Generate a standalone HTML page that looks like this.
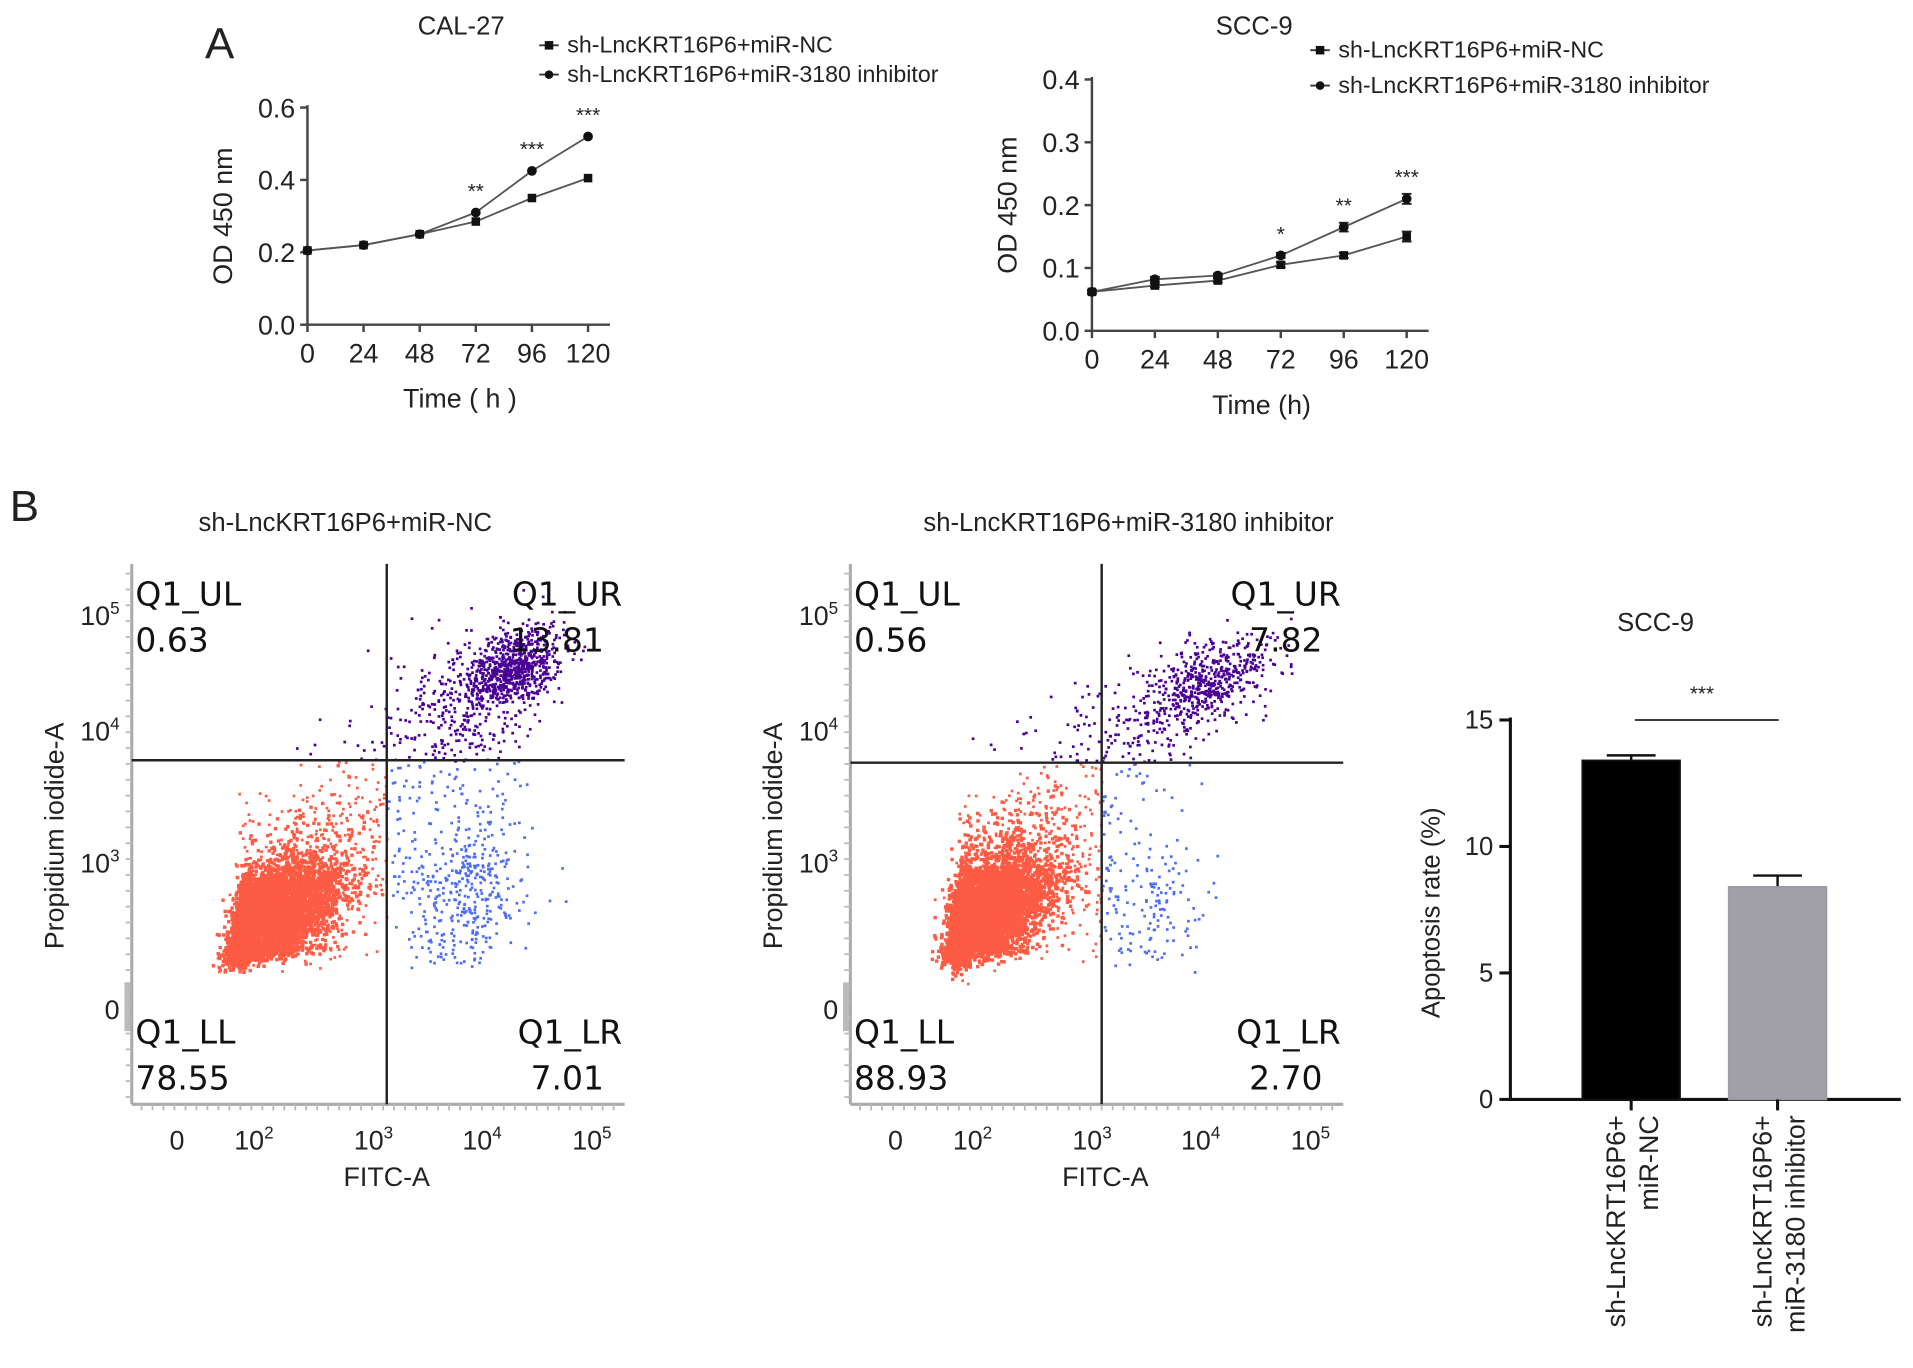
<!DOCTYPE html>
<html><head><meta charset="utf-8"><style>
html,body{margin:0;padding:0;background:#fff;}
svg{display:block;}
.t{font-family:"Liberation Sans",sans-serif;fill:#222;}
.q{font-family:"DejaVu Sans","Liberation Sans",sans-serif;fill:#111;font-size:27px;}
</style></head><body>
<svg id="fig" width="1913" height="1368" viewBox="0 0 1568 1121" xmlns="http://www.w3.org/2000/svg">
<text class="t" x="168" y="48" font-size="36">A</text>
<text class="t" x="8" y="427" font-size="36">B</text>
<g id="gA1"></g>
<g id="gA2"></g>
<g id="gF1"></g>
<g id="gF2"></g>
<g id="gBar"></g>
</svg>
<script>
// ---- Growth curve data ----
const timePoints = [0, 24, 48, 72, 96, 120];
const cal27NC = [0.205, 0.22, 0.25, 0.285, 0.35, 0.405];
const cal27Inh = [0.205, 0.22, 0.25, 0.31, 0.425, 0.52];
const cal27Stars = ["", "", "", "**", "***", "***"];
const cal27YTicks = [0.0, 0.2, 0.4, 0.6];
const scc9NC = [0.062, 0.072, 0.08, 0.105, 0.12, 0.15];
const scc9Inh = [0.062, 0.082, 0.088, 0.12, 0.165, 0.21];
const scc9NCErr = [0.003, 0.003, 0.003, 0.004, 0.004, 0.008];
const scc9InhErr = [0.003, 0.004, 0.003, 0.004, 0.007, 0.008];
const scc9Stars = ["", "", "", "*", "**", "***"];
const scc9YTicks = [0.0, 0.1, 0.2, 0.3, 0.4];
// ---- Flow cytometry data (log10 cluster centres/spreads, counts, x-y correlation) ----
const f1Quads = ["0.63", "13.81", "78.55", "7.01"];
const f2Quads = ["0.56", "7.82", "88.93", "2.70"];
const f1ClusterX = [2.1, 2.4, 4.3, 3.8, 3.85];
const f1ClusterY = [2.35, 2.7, 4.55, 4.25, 2.8];
const f1SpreadX = [0.3, 0.45, 0.22, 0.35, 0.28];
const f1SpreadY = [0.3, 0.45, 0.16, 0.3, 0.55];
const f1Corr = [0.6, 0.7, 0.3, 0.3, 0.2];
const f1Count = [5500, 900, 750, 300, 450];
const f2ClusterX = [2.05, 2.35, 4.1, 3.7, 3.5];
const f2ClusterY = [2.4, 2.8, 4.45, 4.15, 2.6];
const f2SpreadX = [0.3, 0.4, 0.3, 0.4, 0.3];
const f2SpreadY = [0.32, 0.45, 0.16, 0.25, 0.55];
const f2Corr = [0.6, 0.7, 0.35, 0.3, 0.2];
const f2Count = [6000, 700, 480, 180, 180];
const clusterColor = ["#fd5b44", "#fd6a50", "#4a0095", "#5a1a9e", "#4e6ef0"];
const flowXTickVals = [0, 2, 3, 4, 5];
const flowYTickVals = [0, 2, 3, 4, 5];
// ---- Bar data ----
const barCats = [["sh-LncKRT16P6+", "miR-NC"], ["sh-LncKRT16P6+", "miR-3180 inhibitor"]];
const barVals = [13.4, 8.4];
const barErr = [0.2, 0.45];
const barYTicks = [0, 5, 10, 15];

const NS = "http://www.w3.org/2000/svg";
function mk(parent, tag, attrs, text) {
  const e = document.createElementNS(NS, tag);
  for (const k in attrs) e.setAttribute(k, attrs[k]);
  if (text !== undefined) e.textContent = text;
  parent.appendChild(e);
  return e;
}
function lin(d0, d1, r0, r1) { return v => r0 + (v - d0) * (r1 - r0) / (d1 - d0); }

function growth(g, cfg) {
  const x = lin(0, 120, cfg.x0, cfg.x1), y = lin(0, cfg.ymax, cfg.y0, cfg.y1);
  const c = "#444";
  let e;
  e = mk(g, "line", {x1: cfg.x0, y1: cfg.y1 - 2, x2: cfg.x0, y2: cfg.y0, stroke: c, "stroke-width": 2});
   
  e = mk(g, "line", {x1: cfg.x0, y1: cfg.y0, x2: cfg.x1 + 18, y2: cfg.y0, stroke: c, "stroke-width": 2});
   
  cfg.yTicks.forEach(v => {
    mk(g, "line", {x1: cfg.x0 - 6, x2: cfg.x0, y1: y(v), y2: y(v), stroke: c, "stroke-width": 2});
    e = mk(g, "text", {class: "t", x: cfg.x0 - 10, y: y(v) + 8, "font-size": 22, "text-anchor": "end"}, v.toFixed(1));
     
  });
  timePoints.forEach(t => {
    mk(g, "line", {x1: x(t), x2: x(t), y1: cfg.y0, y2: cfg.y0 + 6, stroke: c, "stroke-width": 2});
    e = mk(g, "text", {class: "t", x: x(t), y: cfg.y0 + 31, "font-size": 22, "text-anchor": "middle"}, String(t));
     
  });
  [[cfg.nc, cfg.ncErr, "rect"], [cfg.inh, cfg.inhErr, "circle"]].forEach(([s, er, shp], si) => {
    const pts = s.map((v, i) => x(timePoints[i]) + "," + y(v)).join(" ");
    e = mk(g, "polyline", {points: pts, fill: "none", stroke: "#555", "stroke-width": 1.5});
     
    s.forEach((v, i) => {
      const px = x(timePoints[i]), py = y(v);
      if (er) {
        mk(g, "line", {x1: px, x2: px, y1: y(v + er[i]), y2: y(v - er[i]), stroke: "#222", "stroke-width": 1.5});
        mk(g, "line", {x1: px - 4, x2: px + 4, y1: y(v + er[i]), y2: y(v + er[i]), stroke: "#222", "stroke-width": 1.5});
        mk(g, "line", {x1: px - 4, x2: px + 4, y1: y(v - er[i]), y2: y(v - er[i]), stroke: "#222", "stroke-width": 1.5});
      }
      if (shp === "rect") e = mk(g, "rect", {x: px - 3.5, y: py - 3.5, width: 7, height: 7, fill: "#111"});
      else e = mk(g, "circle", {cx: px, cy: py, r: 4, fill: "#111"});
       
    });
  });
  cfg.stars.forEach((s, i) => {
    if (!s) return;
    e = mk(g, "text", {class: "t", x: x(timePoints[i]), y: y(Math.max(cfg.nc[i], cfg.inh[i])) - 12, "font-size": 17, "text-anchor": "middle"}, s);
     
  });
  e = mk(g, "text", {class: "t", x: cfg.titleX, y: 28, "font-size": 21, "text-anchor": "middle"}, cfg.title);
   
  e = mk(g, "text", {class: "t", x: cfg.x0 - 62, y: (cfg.y0 + cfg.y1) / 2, "font-size": 22, "text-anchor": "middle", transform: `rotate(-90 ${cfg.x0 - 62} ${(cfg.y0 + cfg.y1) / 2})`}, "OD 450 nm");
   
  e = mk(g, "text", {class: "t", x: (cfg.x0 + cfg.x1) / 2 + 10, y: cfg.y0 + 68, "font-size": 22, "text-anchor": "middle"}, cfg.xTitle);
   
  ["sh-LncKRT16P6+miR-NC", "sh-LncKRT16P6+miR-3180 inhibitor"].forEach((l, i) => {
    const ly = cfg.legY + i * cfg.legDy;
    mk(g, "line", {x1: cfg.legX - 8, x2: cfg.legX + 8, y1: ly, y2: ly, stroke: "#333", "stroke-width": 1.5});
    if (i === 0) mk(g, "rect", {x: cfg.legX - 3.5, y: ly - 3.5, width: 7, height: 7, fill: "#111"});
    else mk(g, "circle", {cx: cfg.legX, cy: ly, r: 3.5, fill: "#111"});
    e = mk(g, "text", {class: "t", x: cfg.legX + 15, y: ly + 6, "font-size": 19}, l);
     
  });
}
growth(document.getElementById("gA1"), {x0: 252, x1: 482, y0: 266, y1: 88, ymax: 0.6, nc: cal27NC, inh: cal27Inh, stars: cal27Stars, yTicks: cal27YTicks, title: "CAL-27", titleX: 378, xTitle: "Time ( h )", legX: 450, legY: 37, legDy: 24});
growth(document.getElementById("gA2"), {x0: 895, x1: 1153, y0: 271, y1: 65, ymax: 0.4, nc: scc9NC, inh: scc9Inh, ncErr: scc9NCErr, inhErr: scc9InhErr, stars: scc9Stars, yTicks: scc9YTicks, title: "SCC-9", titleX: 1028, xTitle: "Time (h)", legX: 1082, legY: 41, legDy: 29});

function rng(seed) { return function () { seed |= 0; seed = seed + 0x6D2B79F5 | 0; let t = Math.imul(seed ^ seed >>> 15, 1 | seed); t = t + Math.imul(t ^ t >>> 7, 61 | t) ^ t; return ((t ^ t >>> 14) >>> 0) / 4294967296; }; }
function piece(vals, px) { return v => { for (let i = 0; i < vals.length - 1; i++) { if (v <= vals[i + 1] || i === vals.length - 2) { return px[i] + (v - vals[i]) * (px[i + 1] - px[i]) / (vals[i + 1] - vals[i]); } } }; }

function flow(g, cfg) {
  const ox = cfg.ox;
  const xs = piece(flowXTickVals, [145 + ox, 205 + ox, 303 + ox, 392 + ox, 482 + ox]);
  const ys = piece(flowYTickVals, [828, 775, 708, 600, 505]);
  const L = 108 + ox, R = 512 + ox, T = 462, B = 905;
  let e;
  const r = rng(cfg.seed);
  const gauss = () => { let u = r() || 1e-9, v = r(); return Math.sqrt(-2 * Math.log(u)) * Math.cos(2 * Math.PI * v); };
  let html = "";
  cfg.cx.forEach((c, k) => {
    for (let n = 0; n < cfg.cnt[k]; n++) {
      const dx = gauss() * cfg.sx[k];
      const lx = c + dx, ly = cfg.cy[k] + gauss() * cfg.sy[k] + dx * cfg.corr[k];
      let px = xs(lx), py = ys(ly);
      if (px < L + 3 || px > R - 3 || py < T + 3 || py > B - 3) continue;
      if (k < 2 && py > 815) continue;
      let col;
      if (py < cfg.hy) col = "#4a0095"; else if (px > cfg.vx) col = "#4e6ef0"; else col = "#fd5b44";
      const sz = k === 0 ? 2.8 : 2.2;
      html += `<rect x="${px.toFixed(1)}" y="${py.toFixed(1)}" width="${sz}" height="${sz}" fill="${col}"/>`;
    }
  });
  const pts = mk(g, "g", {});
   
  pts.innerHTML = html;
  mk(g, "line", {x1: L, x2: L, y1: T, y2: B, stroke: "#aaa", "stroke-width": 2.5});
  mk(g, "line", {x1: L, x2: R, y1: B, y2: B, stroke: "#aaa", "stroke-width": 2.5});
  for (let yy = T + 8; yy < B; yy += 13) mk(g, "line", {x1: L - 5, x2: L, y1: yy, y2: yy, stroke: "#bbb", "stroke-width": 1.5});
  for (let xx = L + 8; xx < R; xx += 9) mk(g, "line", {x1: xx, x2: xx, y1: B, y2: B + 5, stroke: "#bbb", "stroke-width": 1.5});
  mk(g, "rect", {x: L - 6, y: 805, width: 5, height: 40, fill: "#bbb"});
  e = mk(g, "line", {x1: cfg.vx, x2: cfg.vx, y1: T, y2: B, stroke: "#222", "stroke-width": 2});
   
  e = mk(g, "line", {x1: L, x2: R, y1: cfg.hy, y2: cfg.hy, stroke: "#222", "stroke-width": 2});
   
  const xl = ["0", "10<tspan font-size='14' dy='-9'>2</tspan>", "10<tspan font-size='14' dy='-9'>3</tspan>", "10<tspan font-size='14' dy='-9'>4</tspan>", "10<tspan font-size='14' dy='-9'>5</tspan>"];
  flowXTickVals.forEach((v, i) => {
    e = mk(g, "text", {class: "t", x: xs(v) - (i ? 13 : 0), y: 942, "font-size": 22, "text-anchor": i ? "start" : "middle", fill: "#333"});
    e.innerHTML = xl[i];
     
  });
  flowYTickVals.forEach((v, i) => {
    if (v === 2) return;
    e = mk(g, "text", {class: "t", x: L - 10, y: ys(v) + 7, "font-size": 22, "text-anchor": "end", fill: "#333"});
    e.innerHTML = v === 0 ? "0" : `10<tspan font-size='14' dy='-9'>${v}</tspan>`;
     
  });
  e = mk(g, "text", {class: "t", x: 317 + ox, y: 972, "font-size": 22, "text-anchor": "middle"}, "FITC-A");
   
  e = mk(g, "text", {class: "t", x: 52 + ox, y: 685, "font-size": 22, "text-anchor": "middle", transform: `rotate(-90 ${52 + ox} 685)`}, "Propidium iodide-A");
   
  e = mk(g, "text", {class: "t", x: cfg.titleX, y: 435, "font-size": 21, "text-anchor": "middle"}, cfg.title);
   
  const names = ["Q1_UL", "Q1_UR", "Q1_LL", "Q1_LR"];
  const qx = [L + 3, R - 2, L + 3, R - 2], qy = [496, 496, 855, 855];
  names.forEach((n, i) => {
    const anc = i % 2 ? "end" : "start";
    e = mk(g, "text", {class: "q", x: qx[i], y: qy[i], "text-anchor": anc}, n);
     
    e = mk(g, "text", {class: "q", x: i % 2 ? qx[i] - 15 : qx[i], y: qy[i] + 38, "text-anchor": anc}, cfg.quads[i]);
     
  });
}
flow(document.getElementById("gF1"), {ox: 0, vx: 317, hy: 623, cx: f1ClusterX, cy: f1ClusterY, sx: f1SpreadX, sy: f1SpreadY, corr: f1Corr, cnt: f1Count, quads: f1Quads, seed: 11, title: "sh-LncKRT16P6+miR-NC", titleX: 283});
flow(document.getElementById("gF2"), {ox: 589, vx: 903, hy: 625, cx: f2ClusterX, cy: f2ClusterY, sx: f2SpreadX, sy: f2SpreadY, corr: f2Corr, cnt: f2Count, quads: f2Quads, seed: 29, title: "sh-LncKRT16P6+miR-3180 inhibitor", titleX: 925});

(function () {
  const g = document.getElementById("gBar");
  const y = lin(0, 15, 901, 590);
  const centers = [1337, 1457], bw = 80;
  let e;
  mk(g, "line", {x1: 1238, x2: 1238, y1: 588, y2: 902, stroke: "#111", "stroke-width": 2.5});
  mk(g, "line", {x1: 1237, x2: 1558, y1: 901, y2: 901, stroke: "#111", "stroke-width": 2.5});
  barYTicks.forEach(v => {
    mk(g, "line", {x1: 1229, x2: 1238, y1: y(v), y2: y(v), stroke: "#111", "stroke-width": 2.5});
    e = mk(g, "text", {class: "t", x: 1224, y: y(v) + 7, "font-size": 21, "text-anchor": "end"}, String(v));
     
  });
  barVals.forEach((v, i) => {
    const c = centers[i];
    mk(g, "line", {x1: c, x2: c, y1: y(v), y2: y(v + barErr[i]), stroke: "#111", "stroke-width": 2});
    mk(g, "line", {x1: c - 20, x2: c + 20, y1: y(v + barErr[i]), y2: y(v + barErr[i]), stroke: "#111", "stroke-width": 2});
    e = mk(g, "rect", {x: c - bw / 2, y: y(v), width: bw, height: 901 - y(v), fill: i ? "#a0a0a6" : "#000", stroke: i ? "#9a9aa0" : "#111", "stroke-width": 1.5});
     
    mk(g, "line", {x1: c, x2: c, y1: 901, y2: 910, stroke: "#111", "stroke-width": 2.5});
    barCats[i].forEach((ln, j) => {
      const tx = c - 5 + j * 27;
      e = mk(g, "text", {class: "t", x: tx, y: 914, "font-size": 22, "text-anchor": "end", transform: `rotate(-90 ${tx} 914)`}, ln);
       
    });
  });
  e = mk(g, "line", {x1: 1340, x2: 1458, y1: 590, y2: 590, stroke: "#222", "stroke-width": 1.5});
   
  e = mk(g, "text", {class: "t", x: 1395, y: 574, "font-size": 17, "text-anchor": "middle"}, "***");
   
  e = mk(g, "text", {class: "t", x: 1357, y: 517, "font-size": 21, "text-anchor": "middle"}, "SCC-9");
   
  e = mk(g, "text", {class: "t", x: 1180, y: 748, "font-size": 21, "text-anchor": "middle", transform: "rotate(-90 1180 748)"}, "Apoptosis rate (%)");
   
})();
</script>
</body></html>
